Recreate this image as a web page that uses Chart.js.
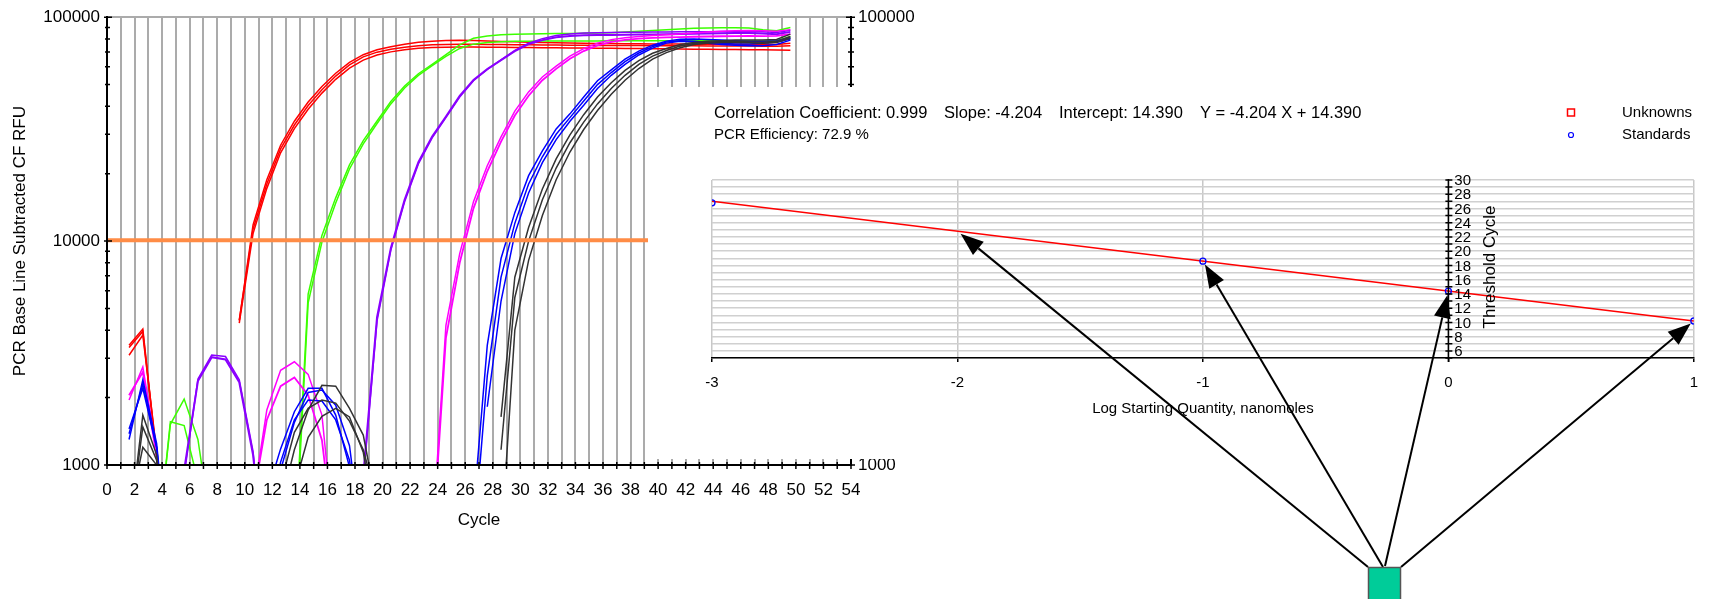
<!DOCTYPE html>
<html><head><meta charset="utf-8">
<script src="https://cdn.jsdelivr.net/npm/chart.js@4.4.1/dist/chart.umd.min.js"></script>
<style>
html,body{margin:0;padding:0;background:#fff;overflow:hidden;}
#wrap{position:relative;width:1710px;height:599px;}
#main{position:absolute;left:0;top:0;}
#inset{position:absolute;left:648px;top:87px;}
</style></head><body>
<div id="wrap"><canvas id="main" width="1710" height="599"></canvas><canvas id="inset" width="1062" height="512"></canvas></div>
<script>
// ---------- DATA ----------
const cycles = [1.6,2.6,3.6,4.6,5.6,6.6,7.6,8.6,9.6,10.6,11.6,12.6,13.6,14.6,15.6,16.6,17.6,18.6,19.6,20.6,21.6,22.6,23.6,24.6,25.6,26.6,27.6,28.6,29.6,30.6,31.6,32.6,33.6,34.6,35.6,36.6,37.6,38.6,39.6,40.6,41.6,42.6,43.6,44.6,45.6,46.6,47.6,48.6,49.6];
const threshold = 10100;
const xTickLabels = [0,2,4,6,8,10,12,14,16,18,20,22,24,26,28,30,32,34,36,38,40,42,44,46,48,50,52,54];
const yTickLabels = [1000,10000,100000];

const red1 = [3430,4050,1100,300,null,null,null,null,4430,11800,18800,26800,34300,41800,49000,56200,62800,68000,71500,73800,75800,77200,78000,78600,78800,78600,78300,77900,77600,77300,77000,76800,76600,76500,76400,76300,76200,76100,76000,76000,75900,75800,75800,75700,75700,75600,75600,75500,76500];
const red2 = [3090,3800,1150,300,null,null,null,null,4430,11300,18000,25800,33000,40300,47400,54600,61200,66500,69800,71900,73500,74600,75300,75600,75700,75700,75600,75500,75400,75300,75200,75100,75000,74900,74800,74800,74700,74700,74600,74600,74500,74500,74400,74400,74300,74300,74200,74200,74500];
const red3 = [3350,3950,1080,300,null,null,null,null,4300,10800,17200,24800,31800,38800,45800,52800,59200,64300,67800,70000,71600,72600,73200,73500,73600,73600,73500,73400,73300,73200,73100,73000,72900,72800,72700,72600,72500,72400,72300,72200,72100,72000,71900,71800,71700,71600,71500,71300,71200];
const green1 = [null,null,400,1520,1970,1300,500,null,null,null,null,null,400,5800,10600,15600,21900,28100,34400,42000,49300,55900,61600,68000,75300,80500,82500,83500,84000,84200,84400,84500,84600,84800,85000,85300,85800,86500,87300,88000,88600,89200,89600,89800,89800,89500,88000,87000,90000];
const green2 = [null,null,400,1560,1500,850,300,null,null,null,null,null,350,5300,9900,14800,21000,27200,33500,41000,48300,55000,60800,66800,72500,75800,77000,77600,78000,78100,78200,78200,78300,78300,78300,78400,78400,78500,78500,78500,78500,78500,78400,78400,78300,78300,78000,78500,82000];
const purple1 = [null,null,null,null,950,2370,3030,2960,2340,1110,300,null,null,null,null,null,null,900,4570,9300,15300,22500,29300,36000,44500,52400,58600,64300,70600,75800,79000,81400,82500,83000,83200,83300,83400,83600,83800,84000,84200,84400,84600,84800,85000,85000,84500,84000,86000];
const purple2 = [null,null,null,null,900,2420,3100,3050,2400,1150,300,null,null,null,null,null,null,850,4400,9100,15000,22100,28900,35600,44000,52000,58400,64500,71000,76500,80200,82800,84200,85000,85300,85500,85600,85700,85800,85900,86000,86100,86200,86300,86300,86200,86000,85500,87500];
const magenta1 = [1950,2740,1150,300,null,null,null,null,null,700,1760,2650,2890,2540,1670,400,null,null,null,null,null,null,460,4200,8790,15000,21700,29200,38100,46400,54100,60500,67000,72400,76600,79400,81000,82000,82800,83500,84200,85000,85800,86500,87000,87300,87000,86500,88000];
const magenta2 = [2050,2600,1100,300,null,null,null,null,null,700,1590,2250,2460,2050,1290,400,null,null,null,null,null,null,420,3700,8000,14000,20500,27800,36400,44600,52300,58800,65200,70600,74800,77600,79200,80200,80800,81200,81500,81800,82000,82200,82300,82400,82300,82500,84000];
const blue1 = [1300,2400,1250,300,null,null,null,null,null,null,740,1180,1730,2200,2200,1670,980,400,null,null,null,null,null,null,null,630,3420,8360,13400,19600,25300,31700,37000,44000,52000,58200,65000,70600,75000,78200,79800,80000,79500,79000,78500,78000,78000,78500,81000];
const blue2 = [1380,2300,1200,300,null,null,null,null,null,null,600,950,1550,2110,2160,1850,1220,400,null,null,null,null,null,null,null,null,1820,5400,10800,16400,22400,28400,34300,40400,48000,55000,61600,67800,72800,76600,78000,77500,76500,75500,75000,74500,74500,75500,79000];
const blue3 = [1450,2200,1200,300,null,null,null,null,null,null,500,1030,1590,1950,1930,1590,1050,400,null,null,null,null,null,null,null,450,2500,6900,12000,18000,23800,30000,35600,42200,50000,56600,63300,69200,73900,77400,78500,78000,77000,76500,76000,76000,76500,77500,80000];
const black1 = [500,1670,1110,300,null,null,null,null,null,null,null,660,1170,1760,2270,2250,1790,1360,650,null,null,null,null,null,null,null,null,1640,6900,11500,17100,23300,29800,36700,44000,51000,57900,64000,69000,72500,75500,77000,78000,78500,79000,79000,79000,79500,84000];
const black2 = [500,1480,1050,300,null,null,null,null,null,null,null,820,1400,1790,1950,1890,1570,1170,690,null,null,null,null,null,null,null,null,1170,5600,10000,15300,21200,27500,34000,41000,48000,55000,61500,67000,71000,74300,76300,77300,77800,77800,77500,77300,78000,82000];
const black3 = [600,1200,1000,300,null,null,null,null,null,null,null,500,800,1330,1650,1790,1640,1140,500,null,null,null,null,null,null,null,null,440,4000,8200,13000,18800,25000,31500,38300,45300,52300,59000,65000,69500,73000,75500,76500,77000,77000,76800,76500,77000,80500];

// standard curve inset
const stdLogQty = [-3,-1,0,1];
const stdCt = [26.8,18.6,14.4,10.2];
const fitLogQty = [-3,1];
const fitCt = [27.0,10.19];
const arrowTargets = [[-2,22.8],[-1,18.6],[0,14.4],[1,10.2]];
const insetYLabels = [6,8,10,12,14,16,18,20,22,24,26,28,30];
const statsSegments = ['Correlation Coefficient: 0.999', 'Slope: -4.204', 'Intercept: 14.390', 'Y = -4.204 X + 14.390'];
const statsLine2 = 'PCR Efficiency: 72.9 %';
const legendItems = ['Unknowns','Standards'];

// ---------- CHARTS ----------
const FONT = "'Liberation Sans', Arial, sans-serif";
Chart.defaults.font.family = FONT;
Chart.defaults.color = '#000';

function series(values, color, width) {
  return { data: cycles.map((c, i) => ({x: c, y: values[i]})), borderColor: color, borderWidth: width,
           pointRadius: 0, fill: false, tension: 0, spanGaps: false };
}

const crossTicks = {
  id: 'crossTicks',
  afterDraw(chart) {
    const {ctx, chartArea: a, scales: {x, y}} = chart;
    ctx.save();
    ctx.strokeStyle = '#000'; ctx.lineWidth = 1.5;
    ctx.beginPath();
    x.ticks.forEach(t => { const px = x.getPixelForValue(t.value); ctx.moveTo(px, a.bottom - 3); ctx.lineTo(px, a.bottom + 4); });
    y.ticks.forEach(t => {
      const v = t.value; const e = Math.pow(10, Math.floor(Math.log10(v) + 1e-9)); const s = v / e;
      if (Math.abs(s - Math.round(s)) > 1e-6) return;
      const py = y.getPixelForValue(v); const major = Math.abs(s - 1) < 1e-6;
      const l = major ? 3 : 2, r = major ? 5 : 3;
      ctx.moveTo(a.left - l, py); ctx.lineTo(a.left + r, py);
      ctx.moveTo(a.right - r, py); ctx.lineTo(a.right + l + 1, py);
    });
    ctx.stroke(); ctx.restore();
  }
};

new Chart(document.getElementById('main'), {
  type: 'line',
  data: { datasets: [
    { data: [{x: 0, y: threshold}, {x: 54, y: threshold}], borderColor: '#FF8C46', borderWidth: 4, pointRadius: 0 },
    series(black1, '#333333', 1.5), series(black2, '#333333', 1.5), series(black3, '#333333', 1.5),
    series(blue1, '#0000FF', 1.5), series(blue2, '#0000FF', 1.5), series(blue3, '#0000FF', 1.5),
    series(magenta1, '#FF00FF', 1.5), series(magenta2, '#FF00FF', 1.8),
    series(purple1, '#8A00FF', 2), series(purple2, '#8A00FF', 1.5),
    series(green1, '#3CFF00', 1.5), series(green2, '#3CFF00', 1.5),
    series(red1, '#FF0000', 1.5), series(red2, '#FF0000', 1.5), series(red3, '#FF0000', 1.5)
  ]},
  options: {
    responsive: false, animation: false, devicePixelRatio: 1,
    layout: { padding: { top: 16, left: 0, right: 0, bottom: 0 } },
    plugins: { legend: { display: false }, tooltip: { enabled: false } },
    scales: {
      x: { type: 'linear', min: 0, max: 54,
        ticks: { stepSize: 1, autoSkip: false, maxRotation: 0, padding: 15, font: { size: 17 }, color: '#000',
                 callback: v => xTickLabels.includes(v) ? String(v) : '' },
        grid: { color: c => (c.tick && (c.tick.value === 0 || c.tick.value === 54)) ? 'rgba(0,0,0,0)' : '#ababab', lineWidth: 2, drawTicks: false },
        border: { display: true, color: '#000', width: 2, z: 1 },
        title: { display: true, text: 'Cycle', font: { size: 17 }, color: '#000', padding: { top: 0, bottom: 68 } },
        afterFit: s => { s.height = 134; } },
      y: { type: 'logarithmic', position: 'left', min: 1000, max: 100000,
        ticks: { autoSkip: false, padding: 7, font: { size: 17 }, color: '#000',
                 callback: v => yTickLabels.includes(v) ? String(v) : '' },
        grid: { color: c => (c.tick && c.tick.value === 100000) ? '#ababab' : 'rgba(0,0,0,0)', lineWidth: 2, drawTicks: false },
        border: { color: '#000', width: 2, z: 1 },
        title: { display: true, text: 'PCR Base Line Subtracted CF RFU', font: { size: 17 }, color: '#000', padding: { top: 10, bottom: 0 } },
        afterFit: s => { s.width = 107; } },
      y2: { type: 'logarithmic', position: 'right', min: 1000, max: 100000,
        ticks: { autoSkip: false, padding: 7, font: { size: 17 }, color: '#000',
                 callback: v => yTickLabels.includes(v) ? String(v) : '' },
        grid: { display: false, drawTicks: false },
        border: { color: '#000', width: 2, z: 1 },
        afterFit: s => { s.width = 859; } }
    }
  },
  plugins: [crossTicks]
});

const PANEL_H = 372;
const ARROW_ORIGINS = [[720, 480], [735, 480], [737, 479], [753, 480]];
const STATS_OFFSETS = [2, 232, 347, 488];
function drawArrow(ctx, x1, y1, x2, y2) {
  const ang = Math.atan2(y2 - y1, x2 - x1);
  const tx = x2 - 4 * Math.cos(ang), ty = y2 - 4 * Math.sin(ang);
  const L = 23, W = 8.5;
  const bx = tx - L * Math.cos(ang), by = ty - L * Math.sin(ang);
  ctx.beginPath(); ctx.moveTo(x1, y1); ctx.lineTo(bx, by); ctx.stroke();
  ctx.beginPath(); ctx.moveTo(tx, ty);
  ctx.lineTo(bx + W * Math.sin(ang), by - W * Math.cos(ang));
  ctx.lineTo(bx - W * Math.sin(ang), by + W * Math.cos(ang));
  ctx.closePath(); ctx.fill();
}

const insetDecor = {
  id: 'insetDecor',
  beforeDraw(chart) {
    const {ctx, width} = chart;
    ctx.save(); ctx.fillStyle = '#fff'; ctx.fillRect(0, 0, width, PANEL_H); ctx.restore();
  },
  afterDraw(chart) {
    const {ctx, chartArea: a, scales: {x, y}} = chart;
    const x0 = x.getPixelForValue(0);
    ctx.save();
    ctx.strokeStyle = '#000'; ctx.lineWidth = 1.5;
    ctx.beginPath();
    ctx.moveTo(x0, y.getPixelForValue(30) - 1); ctx.lineTo(x0, a.bottom + 4);
    y.ticks.forEach(t => { const py = y.getPixelForValue(t.value); ctx.moveTo(x0 - 3, py); ctx.lineTo(x0 + 4, py); });
    ctx.stroke();
    ctx.fillStyle = '#000';
    ctx.font = '15px ' + FONT; ctx.textAlign = 'left'; ctx.textBaseline = 'middle';
    y.ticks.forEach(t => { if (insetYLabels.includes(t.value)) ctx.fillText(String(t.value), x0 + 6, y.getPixelForValue(t.value) + 1); });
    ctx.save(); ctx.translate(x0 + 42, (a.top + a.bottom) / 2 - 2); ctx.rotate(-Math.PI / 2);
    ctx.textAlign = 'center'; ctx.font = '17px ' + FONT; ctx.fillText('Threshold Cycle', 0, 0); ctx.restore();
    // stats text
    ctx.font = '16.5px ' + FONT; ctx.textAlign = 'left'; ctx.textBaseline = 'middle';
    statsSegments.forEach((s, i) => ctx.fillText(s, a.left + STATS_OFFSETS[i], a.top - 67));
    ctx.font = '15px ' + FONT;
    ctx.fillText(statsLine2, a.left + 2, a.top - 45);
    // legend
    ctx.fillText(legendItems[0], 974, a.top - 67);
    ctx.fillText(legendItems[1], 974, a.top - 45);
    ctx.strokeStyle = '#FF0000'; ctx.lineWidth = 1.5; ctx.strokeRect(919.5, a.top - 71, 7, 7);
    ctx.strokeStyle = '#0000FF'; ctx.lineWidth = 1.2; ctx.beginPath(); ctx.arc(923, a.top - 45, 2.5, 0, Math.PI * 2); ctx.stroke();
    // arrows
    ctx.strokeStyle = '#000'; ctx.fillStyle = '#000'; ctx.lineWidth = 2;
    arrowTargets.forEach((t, i) => {
      drawArrow(ctx, ARROW_ORIGINS[i][0], ARROW_ORIGINS[i][1], x.getPixelForValue(t[0]), y.getPixelForValue(t[1]));
    });
    // green box
    ctx.fillStyle = '#00CC99'; ctx.fillRect(720, 480, 33, 40);
    ctx.strokeStyle = '#555'; ctx.lineWidth = 1.5; ctx.strokeRect(720.5, 480.5, 32, 40);
    ctx.restore();
  }
};

new Chart(document.getElementById('inset'), {
  type: 'scatter',
  data: { datasets: [
    { data: stdLogQty.map((v, i) => ({x: v, y: stdCt[i]})), pointRadius: 3, pointBorderWidth: 1.3,
      pointBorderColor: '#0000FF', pointBackgroundColor: 'rgba(0,0,0,0)', showLine: false },
    { data: fitLogQty.map((v, i) => ({x: v, y: fitCt[i]})), showLine: true, borderColor: '#FF0000', borderWidth: 1.5, pointRadius: 0 }
  ]},
  options: {
    responsive: false, animation: false, devicePixelRatio: 1,
    layout: { padding: { left: 64, right: 14, top: 93, bottom: 0 } },
    plugins: { legend: { display: false }, tooltip: { enabled: false } },
    scales: {
      x: { type: 'linear', min: -3, max: 1,
        ticks: { stepSize: 1, font: { size: 15 }, color: '#000', padding: 12 },
        grid: { color: '#c8c8c8', lineWidth: 1.5, drawTicks: true, tickLength: 4, tickColor: '#000', tickWidth: 1.5 },
        border: { color: '#000', width: 1.5 },
        title: { display: true, text: 'Log Starting Quantity, nanomoles', font: { size: 15 }, color: '#000', padding: { top: 0, bottom: 181 } },
        afterFit: s => { s.height = 241; } },
      y: { type: 'linear', min: 5, max: 30,
        ticks: { stepSize: 1, display: false },
        grid: { color: '#d0d0d0', lineWidth: 1.5, drawTicks: false },
        border: { display: false },
        afterFit: s => { s.width = 0; } }
    }
  },
  plugins: [insetDecor]
});
</script></body></html>
